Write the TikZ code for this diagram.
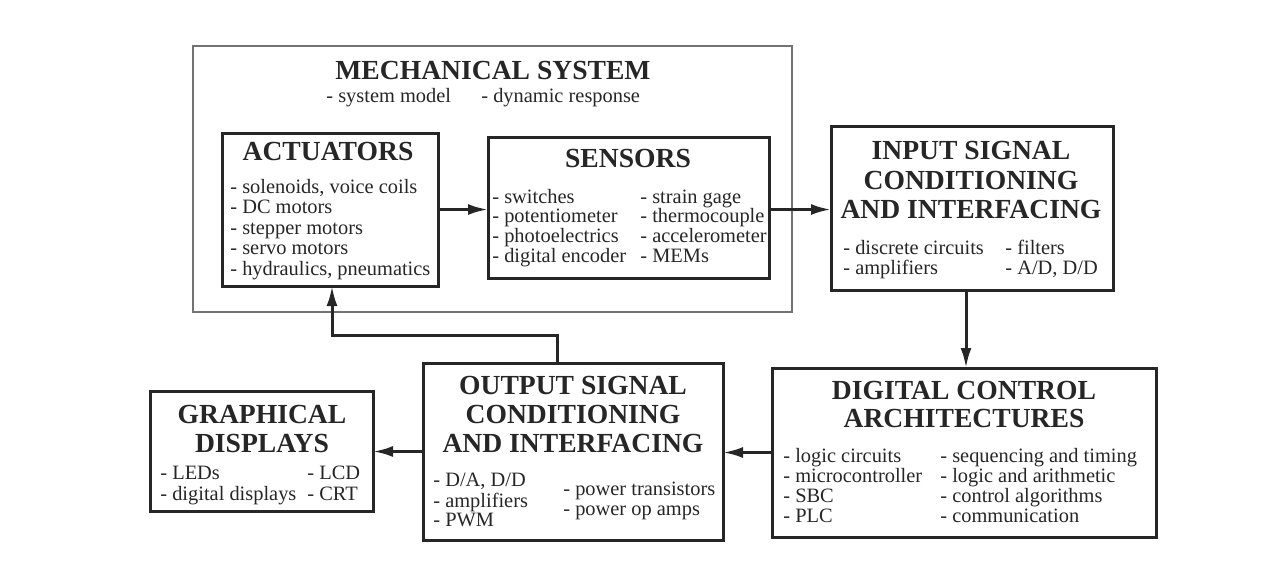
\documentclass[tikz,border=0pt]{standalone}
\usepackage{fontspec}
\setmainfont{Liberation Serif}
\usetikzlibrary{arrows.meta,calc}
\begin{document}
\begin{tikzpicture}[x=0.5pt,y=-0.5pt,
  box/.style={draw=black!85,line width=1.5pt,inner sep=0pt,outer sep=0pt},
  frame/.style={draw=black!55,line width=0.8pt,inner sep=0pt,outer sep=0pt},
  ttl/.style={font=\fontsize{13.8}{14.75}\selectfont\bfseries,text=black!85,inner sep=0pt,anchor=base},
  itm/.style={font=\fontsize{10.2}{10.2}\selectfont,text=black!85,inner sep=0pt,anchor=base west},
  arr/.style={draw=black!85,line width=1.5pt,-{Latex[length=10pt,width=5.5pt]}}]
\useasboundingbox (0,0) rectangle (1271,579);
% boxes
\node[frame,minimum width=299.5pt,minimum height=133pt] (mech) at (492.5,179) {};
\node[box,minimum width=108pt,minimum height=76.5pt] (act) at (330,209.5) {};
\node[box,minimum width=140.5pt,minimum height=70.5pt] (sen) at (628.5,207.5) {};
\node[box,minimum width=141pt,minimum height=82pt] (inp) at (972,208) {};
\node[box,minimum width=192pt,minimum height=84.5pt] (dig) at (964,452.5) {};
\node[box,minimum width=150pt,minimum height=88.5pt] (out) at (573,451.5) {};
\node[box,minimum width=111.5pt,minimum height=60pt] (gra) at (261.5,451) {};
% mechanical system
\node[ttl] (mecht) at (493,79) {MECHANICAL SYSTEM};
\node[itm] (m1) at (326,102) {- system model};
\node[itm] (m2) at (481,102) {- dynamic response};
% actuators
\node[ttl] (actt) at (328,160) {ACTUATORS};
\foreach \t [count=\i] in {{- solenoids, voice coils},{- DC motors},{- stepper motors},{- servo motors},{- hydraulics, pneumatics}}
  \node[itm] (a\i) at (230,{193+20.5*(\i-1)}) {\t};
% sensors
\node[ttl] (sent) at (628,167) {SENSORS};
\foreach \t [count=\i] in {{- switches},{- potentiometer},{- photoelectrics},{- digital encoder}}
  \node[itm] (sl\i) at (492,{203+19.7*(\i-1)}) {\t};
\foreach \t [count=\i] in {{- strain gage},{- thermocouple},{- accelerometer},{- MEMs}}
  \node[itm] (sr\i) at (640,{203+19.7*(\i-1)}) {\t};
% input
\node[ttl] (it1) at (971,159) {INPUT SIGNAL};
\node[ttl] (it2) at (971,189) {CONDITIONING};
\node[ttl] (it3) at (971,218) {AND INTERFACING};
\node[itm] (il1) at (843,254) {- discrete circuits};
\node[itm] (il2) at (843,274) {- amplifiers};
\node[itm] (ir1) at (1005,254) {- filters};
\node[itm] (ir2) at (1005,274) {- A/D, D/D};
% digital
\node[ttl] (dt1) at (964,399) {DIGITAL CONTROL};
\node[ttl] (dt2) at (964,427) {ARCHITECTURES};
\foreach \t [count=\i] in {{- logic circuits},{- microcontroller},{- SBC},{- PLC}}
  \node[itm] (dl\i) at (783,{462+20*(\i-1)}) {\t};
\foreach \t [count=\i] in {{- sequencing and timing},{- logic and arithmetic},{- control algorithms},{- communication}}
  \node[itm] (dr\i) at (940,{462+20*(\i-1)}) {\t};
% output
\node[ttl] (ot1) at (573,394) {OUTPUT SIGNAL};
\node[ttl] (ot2) at (573,423) {CONDITIONING};
\node[ttl] (ot3) at (573,452) {AND INTERFACING};
\node[itm] (ol1) at (433,486) {- D/A, D/D};
\node[itm] (ol2) at (433,507) {- amplifiers};
\node[itm] (ol3) at (433,526) {- PWM};
\node[itm] (or1) at (563,495) {- power transistors};
\node[itm] (or2) at (563,515) {- power op amps};
% graphical
\node[ttl] (gt1) at (262,423) {GRAPHICAL};
\node[ttl] (gt2) at (262,452) {DISPLAYS};
\node[itm] (gl1) at (160,479) {- LEDs};
\node[itm] (gl2) at (160,500) {- digital displays};
\node[itm] (gr1) at (307,479) {- LCD};
\node[itm] (gr2) at (307,500) {- CRT};
% connectors
\draw[arr] (act.east) -- (act.east -| sen.west);
\draw[arr] (sen.east |- act.east) -- (inp.west |- act.east);
\draw[arr] ([xshift=-3pt]inp.south) -- ([xshift=-3pt]inp.south |- dig.north);
\draw[arr] (dig.west) -- (dig.west -| out.east);
\draw[arr] (out.west) -- (out.west -| gra.east);
\draw[arr] ([xshift=-8pt]out.north) -- ++(0,-28) -| ([xshift=1pt]act.south);
\end{tikzpicture}
\end{document}
